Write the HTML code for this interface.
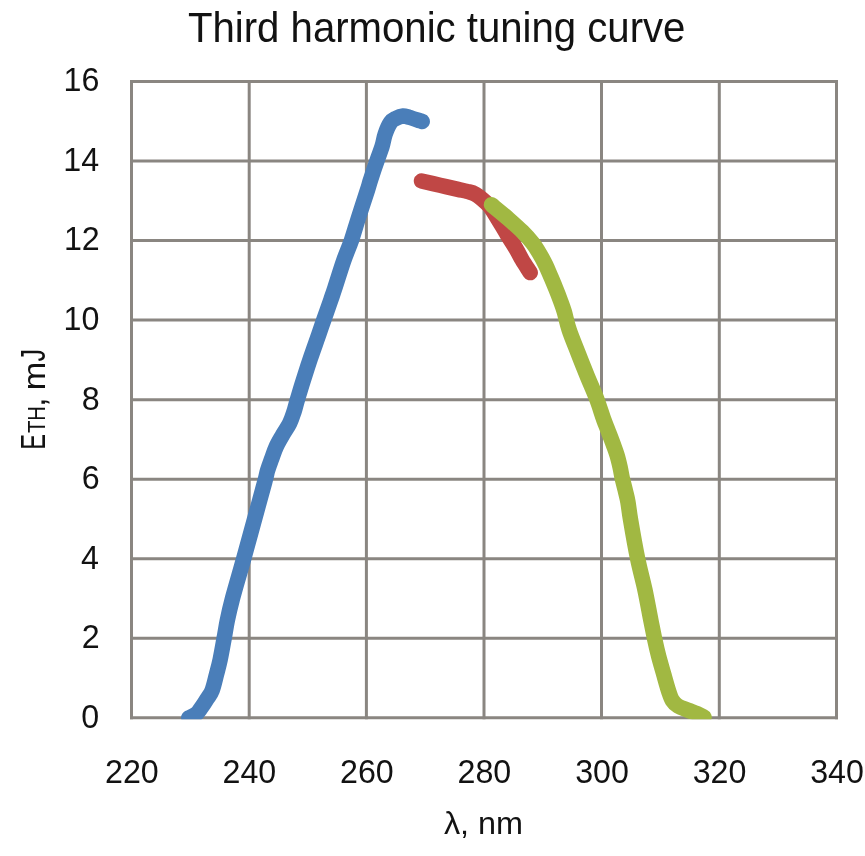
<!DOCTYPE html>
<html><head><meta charset="utf-8"><style>
html,body{margin:0;padding:0;background:#fff;width:865px;height:856px;overflow:hidden}
svg{display:block}
text{font-family:"Liberation Sans",sans-serif;font-size:100px;fill:#121212}
</style></head><body>
<svg width="865" height="856" viewBox="0 0 865 856">
<defs><clipPath id="pa"><rect x="130" y="80" width="708" height="639.3"/></clipPath></defs>
<g stroke="#8a8681" stroke-width="3" fill="none">
<line x1="131.50" y1="80.00" x2="131.50" y2="719.30"/>
<line x1="249.20" y1="80.00" x2="249.20" y2="719.30"/>
<line x1="366.40" y1="80.00" x2="366.40" y2="719.30"/>
<line x1="484.00" y1="80.00" x2="484.00" y2="719.30"/>
<line x1="601.50" y1="80.00" x2="601.50" y2="719.30"/>
<line x1="719.30" y1="80.00" x2="719.30" y2="719.30"/>
<line x1="836.50" y1="80.00" x2="836.50" y2="719.30"/>
<line x1="130.00" y1="81.50" x2="838.00" y2="81.50"/>
<line x1="130.00" y1="161.04" x2="838.00" y2="161.04"/>
<line x1="130.00" y1="240.57" x2="838.00" y2="240.57"/>
<line x1="130.00" y1="320.11" x2="838.00" y2="320.11"/>
<line x1="130.00" y1="399.65" x2="838.00" y2="399.65"/>
<line x1="130.00" y1="479.19" x2="838.00" y2="479.19"/>
<line x1="130.00" y1="558.72" x2="838.00" y2="558.72"/>
<line x1="130.00" y1="638.26" x2="838.00" y2="638.26"/>
<line x1="130.00" y1="717.80" x2="838.00" y2="717.80"/>
</g>
<g clip-path="url(#pa)" fill="none" stroke-width="15.5" stroke-linecap="round" stroke-linejoin="round">
<path stroke="#4a7eb9" d="M188.8,717.8 C189.9,717.2 193.9,715.8 195.9,714.3 C197.9,712.8 198.6,711.4 200.5,708.8 C202.4,706.2 205.4,701.6 207.3,698.5 C209.2,695.4 210.7,694.1 212.2,690.2 C213.7,686.3 215.0,680.3 216.3,675.2 C217.6,670.1 218.9,665.7 220.2,659.5 C221.5,653.3 223.0,644.6 224.2,638.0 C225.4,631.4 226.1,626.3 227.4,620.0 C228.7,613.7 229.4,610.3 232.1,600.0 C234.8,589.7 239.2,575.1 243.8,558.4 C248.4,541.7 256.2,513.2 259.8,500.0 C263.4,486.8 264.1,484.4 265.4,479.4 C266.7,474.4 266.6,473.5 267.7,470.0 C268.8,466.5 270.4,462.3 271.8,458.4 C273.2,454.5 274.4,450.6 276.2,446.7 C278.0,442.8 280.4,438.9 282.6,435.0 C284.8,431.1 287.7,427.3 289.6,423.4 C291.5,419.5 292.7,415.6 294.0,411.7 C295.3,407.8 295.8,405.0 297.3,400.0 C298.8,395.0 300.6,388.7 302.8,381.8 C305.0,374.9 307.8,366.2 310.4,358.4 C313.0,350.6 316.4,341.4 318.6,335.0 C320.8,328.6 321.8,325.7 323.8,319.9 C325.8,314.1 329.0,305.3 330.8,300.0 C332.6,294.7 332.6,294.8 334.8,288.1 C337.0,281.5 341.1,268.0 343.9,260.1 C346.7,252.2 349.0,247.5 351.4,240.5 C353.8,233.5 355.7,226.4 358.4,218.0 C361.1,209.6 365.5,196.3 367.5,190.0 C369.5,183.7 368.9,184.9 370.5,180.0 C372.1,175.1 375.1,166.2 377.0,160.7 C378.9,155.1 380.6,151.1 382.0,146.7 C383.4,142.2 383.8,138.0 385.2,134.0 C386.6,130.0 388.7,125.1 390.5,122.5 C392.3,119.9 393.9,119.4 396.0,118.3 C398.1,117.2 400.8,116.2 403.0,116.0 C405.2,115.8 406.1,116.5 409.3,117.4 C412.5,118.3 420.1,120.9 422.2,121.5"/>
<path stroke="#c04745" d="M421.5,181.0 C424.6,181.7 433.9,183.8 440.0,185.2 C446.1,186.6 453.5,188.4 458.0,189.4 C462.5,190.4 464.1,190.6 467.0,191.4 C469.9,192.2 472.1,192.3 475.4,194.2 C478.6,196.1 483.6,200.3 486.5,203.0 C489.4,205.7 489.1,205.1 492.6,210.4 C496.1,215.7 503.5,228.5 507.4,234.9 C511.3,241.3 513.7,244.7 516.1,248.9 C518.6,253.1 519.9,256.0 522.2,260.0 C524.6,264.0 528.9,270.5 530.2,272.6"/>
<path stroke="#a1b842" d="M491.5,204.8 C494.4,207.2 503.7,214.7 508.8,219.2 C513.9,223.7 518.3,227.6 522.3,231.6 C526.3,235.6 529.6,239.2 532.6,243.1 C535.6,246.9 538.0,251.0 540.2,254.7 C542.4,258.3 543.9,261.3 545.7,265.0 C547.5,268.7 549.1,272.8 550.8,276.7 C552.5,280.6 554.1,284.5 555.7,288.4 C557.3,292.3 558.8,296.1 560.2,300.0 C561.6,303.9 562.8,306.8 564.3,311.8 C565.8,316.8 566.9,323.1 569.2,330.0 C571.5,336.9 575.2,345.6 578.2,353.4 C581.2,361.2 584.4,369.1 587.5,376.7 C590.6,384.3 594.0,391.7 596.7,398.9 C599.4,406.1 602.0,414.8 603.9,420.0 C605.8,425.2 606.3,426.1 607.8,430.0 C609.3,433.9 611.4,439.2 612.9,443.4 C614.4,447.6 615.8,451.1 617.0,455.0 C618.2,458.9 619.1,462.8 620.0,466.7 C620.9,470.6 621.4,474.5 622.3,478.4 C623.2,482.3 624.3,486.2 625.2,490.1 C626.1,494.0 627.0,496.8 627.9,501.8 C628.8,506.8 629.0,510.6 630.6,520.0 C632.2,529.5 635.2,546.8 637.6,558.5 C640.0,570.2 642.8,579.9 645.0,590.1 C647.2,600.4 649.2,612.0 650.8,620.0 C652.4,628.0 653.2,632.3 654.5,638.4 C655.8,644.5 657.2,650.7 658.8,656.8 C660.4,662.9 662.4,669.5 664.0,675.2 C665.6,680.9 667.2,686.8 668.6,691.0 C670.0,695.2 670.8,698.0 672.4,700.5 C674.0,703.0 675.4,704.4 678.0,706.0 C680.6,707.6 684.8,708.9 688.0,710.2 C691.2,711.5 694.3,712.4 697.0,713.6 C699.7,714.8 702.8,716.6 704.0,717.2"/>
</g>
<g style="filter:grayscale(1)">
<text transform="matrix(0.4015,0,0,0.4217,188.00,42.00)">Third harmonic tuning curve</text>
<text transform="matrix(0.3225,0,0,0.3330,63.59,91.40)">16</text>
<text transform="matrix(0.3225,0,0,0.3330,63.27,170.94)">14</text>
<text transform="matrix(0.3225,0,0,0.3330,63.91,250.47)">12</text>
<text transform="matrix(0.3225,0,0,0.3330,63.59,330.01)">10</text>
<text transform="matrix(0.3225,0,0,0.3330,81.65,409.55)">8</text>
<text transform="matrix(0.3225,0,0,0.3330,81.65,489.09)">6</text>
<text transform="matrix(0.3225,0,0,0.3330,81.01,568.62)">4</text>
<text transform="matrix(0.3225,0,0,0.3330,81.65,648.16)">2</text>
<text transform="matrix(0.3225,0,0,0.3330,81.33,727.70)">0</text>
<text transform="matrix(0.3225,0,0,0.3330,105.01,782.60)">220</text>
<text transform="matrix(0.3225,0,0,0.3330,222.51,782.60)">240</text>
<text transform="matrix(0.3225,0,0,0.3330,340.01,782.60)">260</text>
<text transform="matrix(0.3225,0,0,0.3330,457.51,782.60)">280</text>
<text transform="matrix(0.3225,0,0,0.3330,575.17,782.60)">300</text>
<text transform="matrix(0.3225,0,0,0.3330,692.67,782.60)">320</text>
<text transform="matrix(0.3225,0,0,0.3330,810.17,782.60)">340</text>
<text transform="matrix(0.3241,0,0,0.3185,443.88,833.70)">λ, nm</text>
</g>
<g transform="translate(45,447.8) rotate(-90)" style="filter:grayscale(1)">
<text transform="matrix(0.2370,0,0,0.3449,-1.90,0.00)">E</text>
<text transform="matrix(0.2033,0,0,0.2420,14.69,0.00)">TH</text>
<text transform="matrix(0.3300,0,0,0.3300,41.03,0.00)">,</text>
<text transform="matrix(0.3414,0,0,0.3148,57.51,0.00)">m</text>
<text transform="matrix(0.2512,0,0,0.3449,86.30,0.00)">J</text>
</g>
</svg>
</body></html>
